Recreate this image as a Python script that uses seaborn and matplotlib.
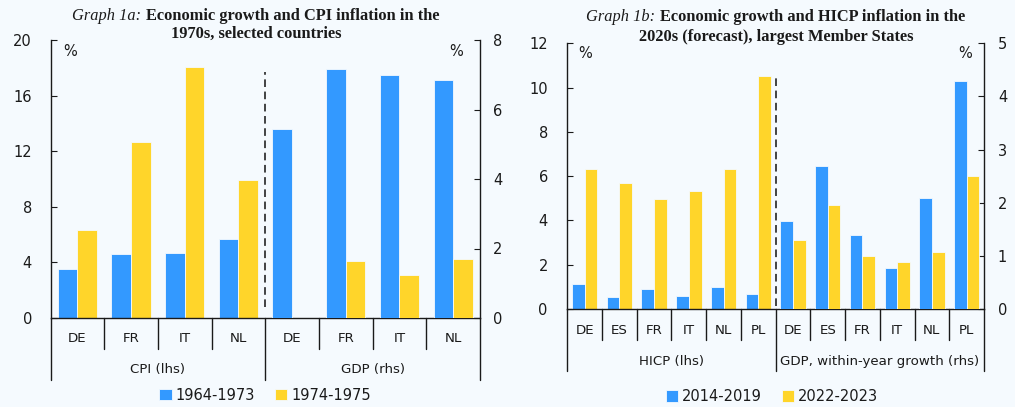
import pandas as pd
import matplotlib.pyplot as plt
import seaborn as sns

# Graph 1a: 1970s
countries_a = ['DE', 'FR', 'IT', 'NL']
periods_a = ['1964-1973', '1974-1975']
cpi_6473 = [3.5, 4.6, 4.65, 5.65]
cpi_7475 = [6.35, 12.65, 18.05, 9.9]
gdp_6473 = [5.43, 7.16, 6.98, 6.86]
gdp_7475 = [0.0, 1.63, 1.24, 1.7]
groups_a = ['CPI (lhs)', 'GDP (rhs)']

# Graph 1b: 2020s (forecast)
countries_b = ['DE', 'ES', 'FR', 'IT', 'NL', 'PL']
periods_b = ['2014-2019', '2022-2023']
hicp_1419 = [1.12, 0.54, 0.9, 0.57, 1.0, 0.66]
hicp_2223 = [6.32, 5.7, 4.97, 5.34, 6.32, 10.54]
gdp_1419 = [1.66, 2.69, 1.39, 0.77, 2.09, 4.29]
gdp_2223 = [1.3, 1.95, 1.0, 0.89, 1.07, 2.5]
groups_b = ['HICP (lhs)', 'GDP, within-year growth (rhs)']

W, H = 1015, 407
BG = '#F5FAFE'
colors = ['#3399FF', '#FFD52A']
INK = '#1a1a1a'

sns.set_style('ticks')
plt.rcParams['font.family'] = ['DejaVu Sans']
plt.rcParams['axes.edgecolor'] = INK
plt.rcParams['text.color'] = INK


def fx(px):
    return px / W


def fy(py):
    return 1 - py / H


def long_df(countries, periods, lhs, rhs):
    rows = []
    for side, pair in (('lhs', lhs), ('rhs', rhs)):
        for period, vals in zip(periods, pair):
            for c, v in zip(countries, vals):
                rows.append({'slot': side + c, 'side': side, 'period': period, 'value': v})
    return pd.DataFrame(rows)


def panel(fig, box, df, countries, periods, groups, ylim_l, ylim_r, ticks_l, ticks_r,
          lab_px, pads, dash):
    x0, y0, x1, y1 = box  # pixel coords (top based)
    ax = fig.add_axes([fx(x0), fy(y1), fx(x1 - x0), (y1 - y0) / H])
    ax2 = ax.twinx()
    slots = ['lhs' + c for c in countries] + ['rhs' + c for c in countries]
    n = len(slots)
    kw = dict(x='slot', y='value', hue='period', order=slots, hue_order=periods,
              palette=colors, saturation=1, width=0.73, errorbar=None,
              edgecolor=BG, linewidth=0.6)
    sns.barplot(data=df[df.side == 'lhs'], ax=ax, **kw)
    sns.barplot(data=df[df.side == 'rhs'], ax=ax2, legend=False, **kw)
    handles, labels = ax.get_legend_handles_labels()
    ax.get_legend().remove()

    ax.set_facecolor(BG)
    ax.set_xlim(-0.5, n - 0.5)
    ax.set_ylim(*ylim_l)
    ax2.set_ylim(*ylim_r)
    ax.set_yticks(ticks_l)
    ax2.set_yticks(ticks_r)
    ax.set_xticks([])
    ax.set_xlabel('')
    ax.set_ylabel('')
    ax2.set_ylabel('')
    for s in ('top', 'right'):
        ax.spines[s].set_visible(False)
    for s in ('top', 'left', 'bottom'):
        ax2.spines[s].set_visible(False)
    for a in (ax, ax2):
        for s in a.spines.values():
            s.set_linewidth(1.0)
            s.set_color(INK)
    ax.tick_params(axis='y', direction='in', length=4, pad=pads[0], labelsize=10.5,
                   colors=INK)
    ax2.tick_params(axis='y', direction='in', length=4, pad=pads[1], labelsize=10.5,
                    colors=INK)

    # two-level category axis
    hpx = y1 - y0
    cat_y, grp_y, short_y, long_y = [-(p - y1) / hpx for p in lab_px]
    tr = ax.get_xaxis_transform()
    m = len(countries)
    for i, c in enumerate(slots):
        ax.text(i, cat_y, c[3:], transform=tr, ha='center', va='center', fontsize=9.6)
    for k, g in enumerate(groups):
        ax.text(k * m + (m - 1) / 2, grp_y, g, transform=tr, ha='center', va='center',
                fontsize=9.6)
    for i in range(n + 1):
        xb = i - 0.5
        bottom = long_y if i % m == 0 else short_y
        ax.plot([xb, xb], [0, bottom], transform=tr, color=INK, lw=1.0, clip_on=False)

    ax.axvline(m - 0.5, ymin=dash[0], ymax=dash[1], color='#111111', lw=1.1,
               ls=(0, (5, 3)))
    return ax, handles, labels


def title(fig, cx, ya, yb, italic, bold, line2, size=11.75):
    r = fig.canvas.get_renderer()
    kw = dict(family='Liberation Serif', fontsize=size, va='center', ha='left')
    t1 = fig.text(0, fy(ya), italic, style='italic', **kw)
    t2 = fig.text(0, fy(ya), bold, weight='bold', **kw)
    w1 = t1.get_window_extent(r).width
    w2 = t2.get_window_extent(r).width
    gap = 5
    start = cx - (w1 + gap + w2) / 2
    t1.set_x(fx(start))
    t2.set_x(fx(start + w1 + gap))
    fig.text(fx(cx), fy(yb), line2, weight='bold', family='Liberation Serif',
             fontsize=size, va='center', ha='center')


fig = plt.figure(figsize=(W / 100, H / 100), dpi=100)
fig.patch.set_facecolor(BG)

df_a = long_df(countries_a, periods_a, [cpi_6473, cpi_7475], [gdp_6473, gdp_7475])
ax_a, h_a, l_a = panel(fig, (50.5, 40, 480, 318), df_a, countries_a, periods_a, groups_a,
                       (0, 20), (0, 8), range(0, 21, 4), range(0, 9, 2),
                       (338, 370, 349, 380), (13.4, 9.6), (0.04, 0.885))

df_b = long_df(countries_b, periods_b, [hicp_1419, hicp_2223], [gdp_1419, gdp_2223])
ax_b, h_b, l_b = panel(fig, (567.3, 43.3, 984, 309), df_b, countries_b, periods_b, groups_b,
                       (0, 12), (0, 5), range(0, 13, 2), range(0, 6, 1),
                       (330, 361, 340, 370.7), (14, 10), (0.01, 0.87))

for x_px in (70, 456.5):
    fig.text(fx(x_px), fy(52), '%', ha='center', va='center', fontsize=10.5)
for x_px in (585.5, 965):
    fig.text(fx(x_px), fy(53), '%', ha='center', va='center', fontsize=10.5)

leg_kw = dict(loc='center', bbox_transform=fig.transFigure, ncol=2, frameon=False,
              handlelength=0.85, handleheight=0.85, handletextpad=0.25,
              columnspacing=1.4, fontsize=10.5)
fig.legend(h_a, l_a, bbox_to_anchor=(fx(265), fy(395)), **leg_kw)
fig.legend(h_b, l_b, bbox_to_anchor=(fx(772), fy(396.5)), **leg_kw)

title(fig, 256, 16, 34, 'Graph 1a:', 'Economic growth and CPI inflation in the',
      '1970s, selected countries')
title(fig, 776, 17.3, 36.7, 'Graph 1b:', 'Economic growth and HICP inflation in the',
      '2020s (forecast), largest Member States')

fig.savefig('out.png', dpi=100, facecolor=BG)
